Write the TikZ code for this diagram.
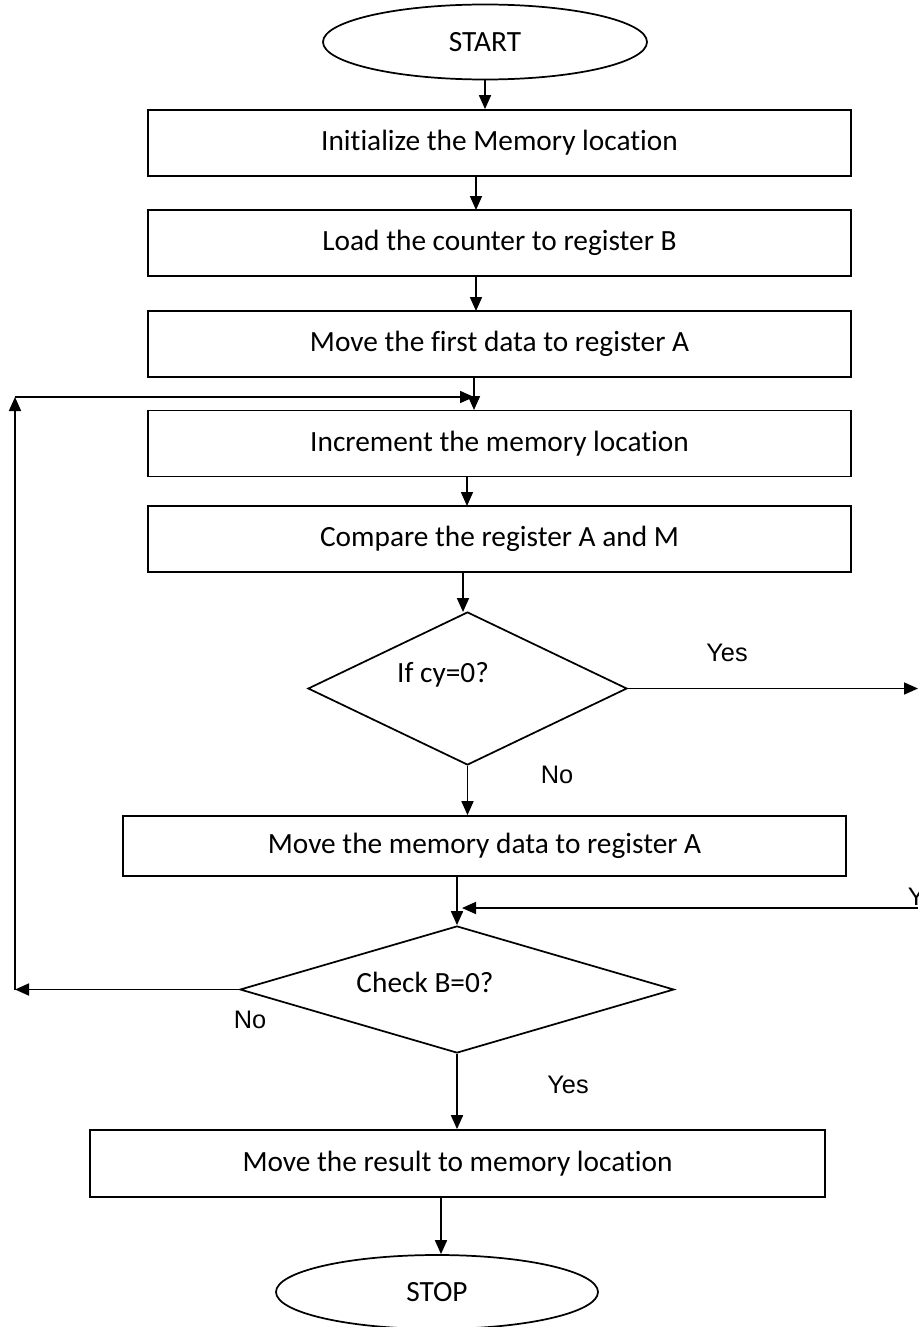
\documentclass[tikz,border=0pt]{standalone}
\usepackage{fontspec}
\setmainfont{Carlito}[Ligatures=NoCommon]
\newfontfamily\arialfont{Liberation Sans}
\usetikzlibrary{shapes.geometric,arrows.meta}
\newdimen\pxu \pxu=0.75pt
\begin{document}
\begin{tikzpicture}[x=0.75pt,y=-0.75pt,
  line width=1.3pt,
  arr/.style={-{Triangle[length=10.5pt,width=9pt]}},
  procbox/.style={draw,rectangle,inner sep=0pt,font=\fontsize{22}{26}\selectfont},
  term/.style={draw,ellipse,inner sep=0pt,font=\fontsize{22}{26}\selectfont},
  decis/.style={draw,diamond,inner sep=0pt},
  dtext/.style={font=\fontsize{22}{26}\selectfont},
  lab/.style={font=\arialfont\fontsize{19}{22}\selectfont}]
\useasboundingbox (0,0) rectangle (918,1327);

\node[term,minimum width=324\pxu,minimum height=75\pxu] (start) at (485,42) {START};
\node[procbox,minimum width=703\pxu,minimum height=66\pxu] (b1) at (499.5,143) {Initialize the Memory location};
\node[procbox,minimum width=703\pxu,minimum height=66\pxu] (b2) at (499.5,243) {Load the counter to register B};
\node[procbox,minimum width=703\pxu,minimum height=66\pxu] (b3) at (499.5,344) {Move the first data to register A};
\node[procbox,minimum width=703\pxu,minimum height=66\pxu] (b4) at (499.5,443.5) {Increment the memory location};
\node[procbox,minimum width=703\pxu,minimum height=66\pxu] (b5) at (499.5,539) {Compare the register A and M};
\node[decis,minimum width=319\pxu,minimum height=153\pxu] (d1) at (467.5,688.5) {};
\node[dtext] (d1t) at (443,675) {If cy=0?};
\node[procbox,minimum width=723\pxu,minimum height=60\pxu] (b6) at (484.5,846) {Move the memory data to register A};
\node[decis,minimum width=434\pxu,minimum height=127\pxu] (d2) at (457,989.5) {};
\node[dtext] (d2t) at (425,982) {Check B=0?};
\node[procbox,minimum width=735\pxu,minimum height=67\pxu] (b7) at (457.5,1163.5) {Move the result to memory location};
\node[term,minimum width=322\pxu,minimum height=74\pxu] (stop) at (437,1292) {STOP};

\node[lab] (y1) at (727,653) {Yes};
\node[lab] (n1) at (557,775) {No};
\node[lab] (n2) at (250,1020) {No};
\node[lab] (y2) at (568,1085) {Yes};
\node[lab,anchor=west,inner sep=0pt] (y3) at (907,897) {Yes};

\coordinate (rt1) at (918,688.5);
\coordinate (rt2) at (918,908);
\coordinate (lp1) at (15,989.5);
\coordinate (lp2) at (15,397);
\coordinate (lp3) at (474,397);

\draw[arr] (start.south) -- (start.south |- b1.north);
\draw[arr] (476,176) -- (476,210);
\draw[arr] (476,276) -- (476,311);
\draw[arr] (474,377) -- (474,410);
\draw[arr] (467,476) -- (467,506);
\draw[arr] (463,572) -- (463,612);
\draw[arr] (d1.east) -- (rt1);
\draw[arr] (d1.south) -- (d1.south |- b6.north);
\draw[arr] (b6.south -| d2.north) -- (d2.north);
\draw[arr] (rt2) -- (462,908);
\draw[arr] (d2.west) -- (lp1);
\draw[arr] (lp1) -- (lp2);
\draw[arr] (lp2) -- (lp3);
\draw[arr] (d2.south) -- (d2.south |- b7.north);
\draw[arr] (441,1197) -- (stop.north -| 441,0);
\end{tikzpicture}
\end{document}
